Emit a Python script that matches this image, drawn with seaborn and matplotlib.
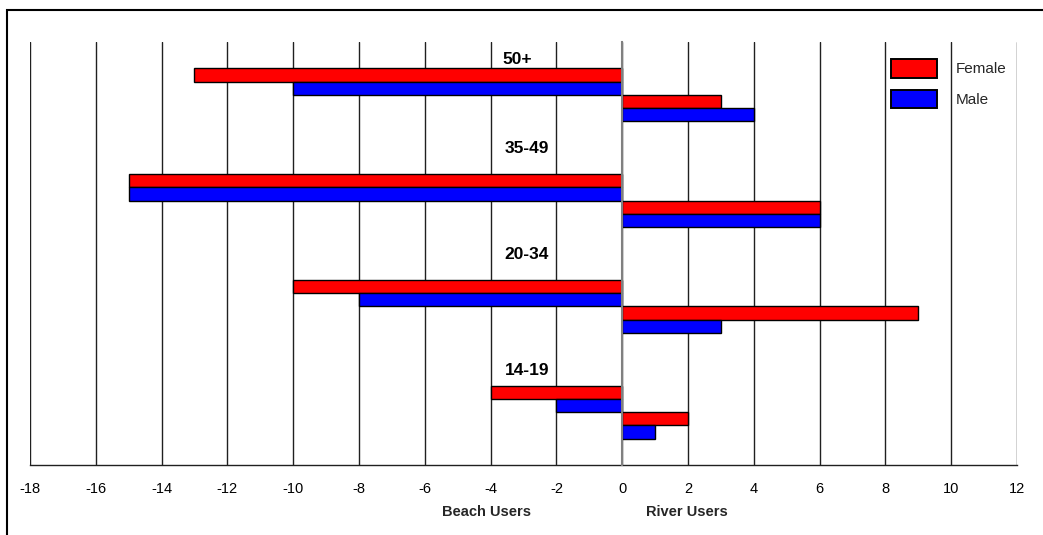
import matplotlib
matplotlib.use("Agg")
import matplotlib.pyplot as plt
from matplotlib.patches import Patch, Rectangle
import seaborn as sns
import pandas as pd

# Survey counts per age group; beach users plotted to the left (negative)
ages = ["50+", "35-49", "20-34", "14-19"]
beach_female = [-13, -15, -10, -4]
beach_male = [-10, -15, -8, -2]
river_female = [3, 6, 9, 2]
river_male = [4, 6, 3, 1]

series_names = ["Beach Female", "Beach Male", "River Female", "River Male"]
series_values = [beach_female, beach_male, river_female, river_male]
x_ticks = list(range(-18, 13, 2))

rows = []
for name, vals in zip(series_names, series_values):
    for age, v in zip(ages, vals):
        rows.append({"age": age, "series": name, "count": v})
df = pd.DataFrame(rows)

sns.set_style("white")
plt.rcParams["font.family"] = ["Liberation Sans", "DejaVu Sans"]

RED = "#FF0000"
BLUE = "#0000FF"

W, H = 1043, 535
fig = plt.figure(figsize=(W / 100, H / 100), dpi=100)
ax = fig.add_axes([30 / W, 1 - 465 / H, 987 / W, 423 / H])

sns.barplot(
    data=df, y="age", x="count", hue="series",
    order=ages, hue_order=series_names,
    palette=[RED, BLUE, RED, BLUE], saturation=1,
    orient="h", width=0.5, dodge=True,
    edgecolor="black", linewidth=1.0, legend=False, ax=ax,
)

ax.set_xlim(-18, 12)
ax.set_ylim(3.5, -0.5)
ax.set_xticks(x_ticks)
ax.set_xticklabels([str(t) for t in x_ticks], fontsize=10.5)
ax.set_yticks([-0.5, 0.5, 1.5, 2.5, 3.5])
ax.set_yticklabels([])
ax.set_xlabel("")
ax.set_ylabel("")

ax.grid(axis="x", color="#202020", linewidth=1.0)
ax.grid(axis="y", visible=False)
ax.set_axisbelow(True)

for side in ("top", "right"):
    ax.spines[side].set_visible(False)
ax.spines["left"].set_position(("data", 0))
ax.spines["left"].set_color("#808080")
ax.spines["left"].set_linewidth(1.5)
ax.spines["left"].set_zorder(3)
ax.spines["bottom"].set_color("#202020")
ax.spines["bottom"].set_linewidth(1.0)
ax.tick_params(axis="x", direction="out", length=5, width=1, color="#202020",
               pad=7, labelcolor="black")
ax.tick_params(axis="y", direction="out", length=5, width=1, color="black")

# Age group captions above each cluster
label_pos = [(-3.2, -0.33), (-2.9, 0.51), (-2.9, 1.51), (-2.9, 2.61)]
for age, (lx, ly) in zip(ages, label_pos):
    ax.text(lx, ly, age, ha="center", va="center", fontsize=12.5,
            fontweight="bold", color="black", zorder=4)

# Side captions under the axis
fig.text(487 / W, 1 - 512 / H, "Beach Users", ha="center", va="center",
         fontsize=10.5, fontweight="bold")
fig.text(687 / W, 1 - 512 / H, "River Users", ha="center", va="center",
         fontsize=10.5, fontweight="bold")

handles = [Patch(facecolor=RED, edgecolor="black", linewidth=1.4, label="Female"),
           Patch(facecolor=BLUE, edgecolor="black", linewidth=1.4, label="Male")]
fig.legend(handles=handles, loc="upper left",
           bbox_to_anchor=(891 / W, 1 - 59 / H), frameon=False,
           fontsize=11, handlelength=3.0, handleheight=1.5,
           handletextpad=1.24, labelspacing=0.78, borderpad=0, borderaxespad=0)

# Outer chart frame
fig.patches.append(Rectangle((7 / W, -0.05), 1.2, 1.05 - 10 / H,
                             transform=fig.transFigure, fill=False,
                             edgecolor="black", linewidth=1.5))

fig.savefig("out.png", dpi=100)
